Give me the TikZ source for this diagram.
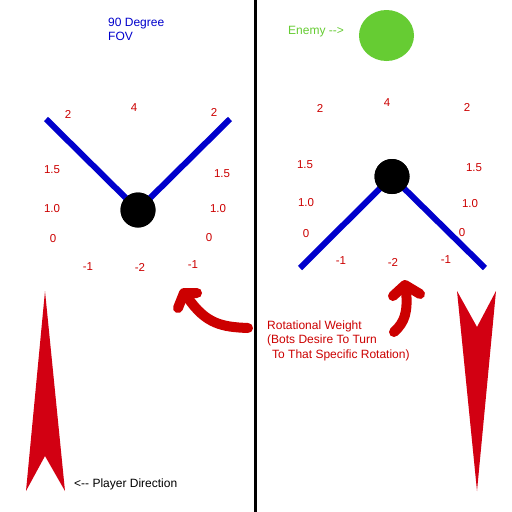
\documentclass[tikz,border=0pt]{standalone}
\usepackage{fontspec}
\setmainfont{Liberation Sans}
\definecolor{fovblue}{RGB}{0,0,204}
\definecolor{weightred}{RGB}{204,0,0}
\definecolor{spikered}{RGB}{210,0,18}
\definecolor{enemygreen}{RGB}{102,204,51}
\tikzset{
  weight/.style={text=weightred, inner sep=0pt, font=\fontsize{11.5}{14}\selectfont},
  fovarm/.style={fovblue, line width=6pt},
  bot/.style={circle, fill=black, minimum size=35pt, inner sep=0pt},
  brush/.style={weightred, line width=10pt, line cap=round, line join=round},
  caption/.style={inner sep=0pt, font=\fontsize{12}{14.5}\selectfont}
}
\begin{document}
\begin{tikzpicture}[x=1pt, y=-1pt]
    \useasboundingbox[fill=white] (0,0) rectangle (512,512);

    % Divider between the two cases
    \draw[line width=3pt] (255.5,0) -- (255.5,512);

    % Left case: bot looking up
    \node[caption, text=fovblue, anchor=north west, align=left] (fovtext) at (108,17.5) {90 Degree\\FOV};
    \coordinate (lefttipA) at (46,119);
    \coordinate (lefttipB) at (230,119);
    \node[bot] (botleft) at (138,210) {};
    \draw[fovarm] (lefttipA) -- (botleft.center);
    \draw[fovarm] (lefttipB) -- (botleft.center);
    \node[bot] at (botleft) {};

    % Weights round the left bot
    \node[weight] (la2) at (68,114) {2};
    \node[weight] (la4) at (134,108) {4};
    \node[weight] (lb2) at (214,112) {2};
    \node[weight] (la15) at (52,170) {1.5};
    \node[weight] (lb15) at (222,174) {1.5};
    \node[weight] (la10) at (52,209) {1.0};
    \node[weight] (lb10) at (218,209) {1.0};
    \node[weight] (la0) at (53,239) {0};
    \node[weight] (lb0) at (209,238) {0};
    \node[weight] (lam1) at (88,267) {-1};
    \node[weight] (lam2) at (140,267) {-2};
    \node[weight] (lbm1) at (193,265) {-1};

    % Player direction spike
    \fill[spikered] (45,291) -- (65,491) -- (45,456) -- (26,491) -- cycle;
    \node[caption, anchor=base west] (playertext) at (74,487) {<{-}{-} Player Direction};

    % Left brush arrow
    \draw[brush] (248,328) .. controls (222,327) and (206,324) .. (188,298);
    \draw[brush] (178,308) -- (184,293) -- (197,293);

    % Right case: enemy above
    \node[caption, text=enemygreen, anchor=base west] (enemytext) at (288,34) {Enemy {-}{-}>};
    \fill[enemygreen] (386.5,35.5) ellipse [x radius=27.5, y radius=25.5];

    \coordinate (righttipA) at (300,268);
    \coordinate (righttipB) at (485,268);
    \node[bot] (botright) at (392,176.5) {};
    \draw[fovarm] (righttipA) -- (botright.center);
    \draw[fovarm] (righttipB) -- (botright.center);
    \node[bot] at (botright) {};

    % Weights round the right bot
    \node[weight] (ra2) at (320,108) {2};
    \node[weight] (ra4) at (387,103) {4};
    \node[weight] (rb2) at (467,107) {2};
    \node[weight] (ra15) at (305,165) {1.5};
    \node[weight] (rb15) at (474,168) {1.5};
    \node[weight] (ra10) at (306,203) {1.0};
    \node[weight] (rb10) at (470,204) {1.0};
    \node[weight] (ra0) at (306,234) {0};
    \node[weight] (rb0) at (462,233) {0};
    \node[weight] (ram1) at (341,261) {-1};
    \node[weight] (ram2) at (393,262) {-2};
    \node[weight] (rbm1) at (446,260) {-1};

    % Right brush arrow
    \draw[brush] (394,332) .. controls (405,322) and (408,312) .. (406,290);
    \draw[brush] (393,296) -- (405,285) -- (420,294);

    % Weight caption
    \node[caption, text=weightred, anchor=north west, align=left] (weighttext) at (267,320.5)
        {Rotational Weight\\(Bots Desire To Turn\\\hspace*{5pt}To That Specific Rotation)};

    % Bot direction spike
    \fill[spikered] (457,291) -- (477,327) -- (496,291) -- (477,491) -- cycle;
\end{tikzpicture}
\end{document}
